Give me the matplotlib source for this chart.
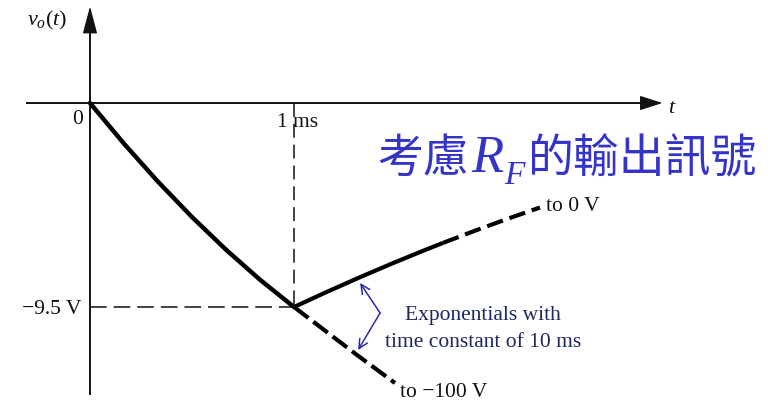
import matplotlib
matplotlib.use("Agg")
import matplotlib.pyplot as plt
import matplotlib.transforms as mtransforms
from matplotlib.patches import FancyArrowPatch

plt.rcParams["mathtext.fontset"] = "custom"
plt.rcParams["mathtext.it"] = "Liberation Serif:italic"
plt.rcParams["mathtext.rm"] = "Liberation Serif"
plt.rcParams["mathtext.cal"] = "Liberation Serif:italic"
plt.rcParams["lines.scale_dashes"] = False

# ---- data (time in ms, voltage in V) ----
t_ramp = [0.0, 0.1667, 0.3333, 0.5, 0.6667, 0.8333, 1.0]
v_ramp = [0.0, -1.895, -3.665, -5.309, -6.832, -8.229, -9.5]

t_recover = [1.0, 1.1618, 1.3235, 1.4853, 1.6471, 1.7304]
v_recover = [-9.5, -8.792, -8.112, -7.456, -6.827, -6.515]

t_recover_ext = [1.7304, 1.8873, 2.0441, 2.2059]
v_recover_ext = [-6.515, -5.947, -5.402, -4.866]

t_ramp_ext = [1.0, 1.309, 1.495]
v_ramp_ext = [-9.5, -11.735, -13.039]

t_mark = 1.0     # ms
v_mark = -9.5    # V

W, H = 768, 403
fig = plt.figure(figsize=(W / 100, H / 100), dpi=100)
ax = fig.add_axes([0, 0, 1, 1])
ax.set_xlim(-0.4412, 3.3235)
ax.set_ylim(-13.97, 4.797)
ax.axis("off")

# figure-pixel coordinates with origin at top-left
pix = mtransforms.Affine2D().scale(1, -1).translate(0, H)

ink = "#111111"

# ---- axes with arrowheads ----
ax.plot([-0.314, 2.72], [0, 0], color=ink, lw=1.4, solid_capstyle="butt")
ax.plot([0, 0], [-13.6, 4.0], color=ink, lw=1.4, solid_capstyle="butt")
for start, tip, hl in [((2.70, 0), (2.806, 0), 14), ((0, 3.9), (0, 4.50), 17)]:
    ax.add_patch(FancyArrowPatch(start, tip,
                                 arrowstyle=f"-|>,head_length={hl},head_width=4.5",
                                 mutation_scale=1, color=ink, lw=1.0,
                                 shrinkA=0, shrinkB=0))

# ---- guide lines to the 1 ms / -9.5 V point ----
ax.plot([t_mark, t_mark], [0, v_mark], color=ink, lw=1.1, dashes=(10, 5))
ax.plot([0, t_mark], [v_mark, v_mark], color=ink, lw=1.1, dashes=(12, 5))

# ---- output waveform ----
ax.plot(t_ramp, v_ramp, color="black", lw=3.2, solid_capstyle="round", solid_joinstyle="round")
ax.plot(t_recover, v_recover, color="black", lw=3.0, solid_capstyle="butt", solid_joinstyle="round")
ax.plot(t_recover_ext, v_recover_ext, color="black", lw=3.0, dashes=(12, 5))
ax.plot(t_ramp_ext, v_ramp_ext, color="black", lw=3.0, dashes=(13, 4.5))

# ---- annotation arrows ----
blue_arrow = "#2b2ba6"
vertex = (1.422, -9.779)
for tip in [(1.324, -8.382), (1.314, -11.502)]:
    ax.add_patch(FancyArrowPatch(vertex, tip, arrowstyle="->,head_length=6.5,head_width=3.2",
                                 mutation_scale=1, color=blue_arrow, lw=1.1,
                                 shrinkA=0, shrinkB=0))

# ---- labels ----
serif = "Liberation Serif"
fs = 15.5
ax.text(27, 25, r"$v_o(t)$", transform=pix, fontsize=16, color=ink, ha="left", va="baseline")
ax.text(668, 113, r"$t$", transform=pix, fontsize=16, color=ink, ha="left", va="baseline")
ax.text(83, 124, "0", transform=pix, family=serif, fontsize=fs, color=ink, ha="right", va="baseline")
ax.text(277, 127, "1 ms", transform=pix, family=serif, fontsize=fs, color=ink, ha="left", va="baseline")
ax.text(81, 314, "\u22129.5 V", transform=pix, family=serif, fontsize=fs, color=ink, ha="right", va="baseline")
ax.text(546, 211, "to 0 V", transform=pix, family=serif, fontsize=fs, color=ink, ha="left", va="baseline")
ax.text(400, 397, "to \u2212100 V", transform=pix, family=serif, fontsize=fs, color=ink, ha="left", va="baseline")

note_color = "#1c2660"
ax.text(483, 320, "Exponentials with", transform=pix, family=serif, fontsize=fs,
        color=note_color, ha="center", va="baseline")
ax.text(483, 347, "time constant of 10 ms", transform=pix, family=serif, fontsize=fs,
        color=note_color, ha="center", va="baseline")

# ---- title: 考慮R_F的輸出訊號 ----
title_blue = "#3434c8"
cjk = ["Noto Sans CJK TC", "DejaVu Sans"]
ax.text(377, 172, "考慮", transform=pix, family=cjk, fontsize=33, color=title_blue,
        ha="left", va="baseline")
ax.text(471, 172, "R", transform=pix, family=serif, style="italic", fontsize=38,
        color=title_blue, ha="left", va="baseline")
ax.text(504, 184, "F", transform=pix, family=serif, style="italic", fontsize=24,
        color=title_blue, ha="left", va="baseline")
ax.text(527, 172, "的輸出訊號", transform=pix, family=cjk, fontsize=33, color=title_blue,
        ha="left", va="baseline")

fig.savefig("out.png", dpi=100, facecolor="white")
